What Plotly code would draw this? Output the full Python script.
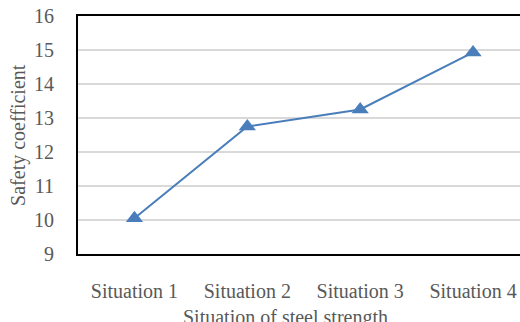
import plotly.graph_objects as go

categories = ["Situation 1", "Situation 2", "Situation 3", "Situation 4"]
safety = [10.05, 12.75, 13.25, 14.93]
y_ticks = [9, 10, 11, 12, 13, 14, 15, 16]

FONT = "Liberation Serif"
GRAY = "#595959"

fig = go.Figure()
fig.add_trace(go.Scatter(
    x=list(range(len(categories))), y=safety,
    mode="lines+markers",
    line=dict(color="#4A7EBB", width=2),
    marker=dict(symbol="triangle-up", size=15, color="#4A7EBB"),
    showlegend=False,
))

fig.update_layout(
    width=520, height=322,
    margin=dict(l=78, r=0, t=16, b=68, autoexpand=False),
    paper_bgcolor="white", plot_bgcolor="white",
    font=dict(family=FONT, color=GRAY, size=20),
    xaxis=dict(
        range=[-0.5, 3.416], automargin=False,
        tickmode="array", tickvals=list(range(len(categories))), ticktext=categories,
        showgrid=False, zeroline=False,
        showline=True, linecolor="black", linewidth=2, mirror=True,
        ticks="", ticklabelstandoff=18,
        tickfont=dict(family=FONT, color=GRAY, size=20),
    ),
    yaxis=dict(
        range=[9, 16], automargin=False,
        tickmode="array", tickvals=y_ticks,
        showgrid=True, gridcolor="#D9D9D9", gridwidth=1.5,
        zeroline=False,
        showline=True, linecolor="black", linewidth=2,
        ticks="", ticklabelstandoff=18,
        tickfont=dict(family=FONT, color=GRAY, size=20),
    ),
    annotations=[
        dict(text="Situation of steel strength", xref="paper", yref="paper",
             x=0.47, y=-0.268, xanchor="center", yanchor="middle", showarrow=False,
             font=dict(family=FONT, color=GRAY, size=20)),
        dict(text="Safety coefficient", xref="paper", yref="paper",
             x=-0.136, y=0.5, xanchor="center", yanchor="middle", showarrow=False,
             textangle=-90, font=dict(family=FONT, color=GRAY, size=20)),
    ],
)

fig.write_html(
    "out.html",
    config={"displayModeBar": False},
    post_script="document.body.style.margin='0';document.body.style.overflow='hidden';",
)
